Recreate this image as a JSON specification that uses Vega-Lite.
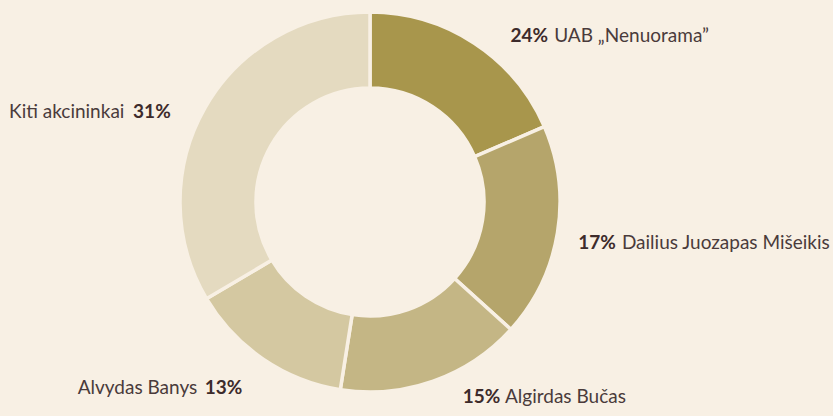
{
  "$schema": "https://vega.github.io/schema/vega-lite/v6.json",
  "width": 740,
  "height": 404,
  "autosize": {"type": "none"},
  "padding": {"left": 0, "top": 0, "right": 93, "bottom": 12},
  "background": "#f8f0e4",
  "config": {"view": {"stroke": null}},
  "data": {
    "values": [
      {"rank": 1, "name": "UAB „Nenuorama”", "pct": 0.24, "share": 18.5},
      {"rank": 2, "name": "Dailius Juozapas Mišeikis", "pct": 0.17, "share": 18.2},
      {"rank": 3, "name": "Algirdas Bučas", "pct": 0.15, "share": 15.8},
      {"rank": 4, "name": "Alvydas Banys", "pct": 0.13, "share": 14.0},
      {"rank": 5, "name": "Kiti akcininkai", "pct": 0.31, "share": 33.5}
    ]
  },
  "encoding": {
    "theta": {"field": "share", "type": "quantitative", "stack": true},
    "order": {"field": "rank", "type": "quantitative"}
  },
  "layer": [
    {
      "mark": {"type": "arc", "innerRadius": 114, "outerRadius": 190, "stroke": "#f8f0e4", "strokeWidth": 3.5},
      "encoding": {
        "color": {
          "field": "name",
          "type": "nominal",
          "scale": {
            "domain": ["UAB „Nenuorama”", "Dailius Juozapas Mišeikis", "Algirdas Bučas", "Alvydas Banys", "Kiti akcininkai"],
            "range": ["#a8964c", "#b5a56b", "#c4b685", "#d4c8a1", "#e4dac0"]
          },
          "legend": null
        }
      }
    },
    {
      "mark": {
        "type": "text",
        "radius": 210,
        "font": "Lato",
        "fontSize": 19,
        "fontWeight": "bold",
        "baseline": "alphabetic",
        "align": {"expr": "datum.rank <= 3 ? 'right' : 'left'"},
        "dx": {"expr": "datum.rank == 1 ? 62.9 : datum.rank == 2 ? 38.7 : datum.rank == 3 ? 60.4 : datum.rank == 4 ? -47.3 : -54.5"},
        "dy": {"expr": "datum.rank == 1 ? 15.6 : datum.rank == 2 ? 13.3 : datum.rank == 3 ? 3.2 : datum.rank == 4 ? 18.6 : 20.4"}
      },
      "encoding": {
        "text": {"field": "pct", "type": "quantitative", "format": ".0%"},
        "color": {"value": "#3d2b2b"}
      }
    },
    {
      "mark": {
        "type": "text",
        "radius": 210,
        "font": "Lato",
        "fontSize": 19,
        "baseline": "alphabetic",
        "align": {"expr": "datum.rank <= 3 ? 'left' : 'right'"},
        "dx": {"expr": "datum.rank == 1 ? 68.9 : datum.rank == 2 ? 44.7 : datum.rank == 3 ? 65.1 : datum.rank == 4 ? -54.7 : -63.2"},
        "dy": {"expr": "datum.rank == 1 ? 15.6 : datum.rank == 2 ? 13.3 : datum.rank == 3 ? 3.2 : datum.rank == 4 ? 18.6 : 20.4"}
      },
      "encoding": {
        "text": {"field": "name", "type": "nominal"},
        "color": {"value": "#4a3b3b"}
      }
    }
  ]
}
